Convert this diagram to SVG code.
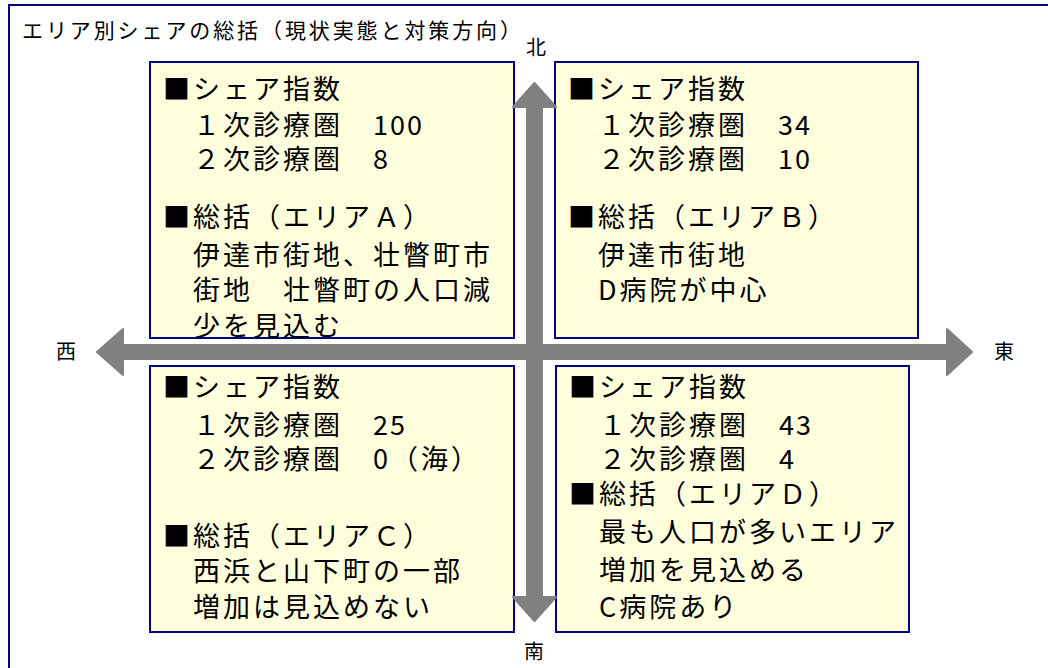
<svg xmlns="http://www.w3.org/2000/svg" width="1048" height="668" viewBox="0 0 1048 668">
<style>
.frame{fill:none;stroke:#000080;stroke-width:2}
.box{fill:#FFFFDD;stroke:#000080;stroke-width:2}
.t{font-family:"Noto Sans CJK JP","Noto Sans",sans-serif;font-size:27px;letter-spacing:3px;fill:#000}
.n{font-family:"Noto Sans CJK JP","Noto Sans",sans-serif;font-size:27px;letter-spacing:2px;fill:#000}
.title{font-family:"Noto Sans CJK JP","Noto Sans",sans-serif;font-size:21px;letter-spacing:2.9px;fill:#000}
.dir{font-family:"Noto Sans CJK JP","Noto Sans",sans-serif;font-size:20px;fill:#000;text-anchor:middle}
.arrow{fill:#808080;stroke:#808080;stroke-width:2;stroke-linejoin:round}
</style>
<rect width="1048" height="668" fill="#fff"/>
<path class="frame" d="M9,668 V5 H1048"/>
<text class="title" x="22" y="38">エリア別シェアの総括（現状実態と対策方向）</text>

<g id="areaA">
<rect class="box" x="150" y="62" width="364" height="276"/>
<text class="t" x="163" y="99">■シェア指数</text>
<text class="t" x="193" y="135">１次診療圏</text>
<text class="n" x="373" y="135">100</text>
<text class="t" x="193" y="169">２次診療圏</text>
<text class="n" x="373" y="169">8</text>
<text class="t" x="163" y="227">■総括（エリアＡ）</text>
<text class="t" x="193" y="265">伊達市街地、壮瞥町市</text>
<text class="t" x="193" y="300">街地　壮瞥町の人口減</text>
<text class="t" x="193" y="336">少を見込む</text>
</g>

<g id="areaB">
<rect class="box" x="555" y="62" width="363" height="276"/>
<text class="t" x="568" y="99">■シェア指数</text>
<text class="t" x="598" y="135">１次診療圏</text>
<text class="n" x="778" y="135">34</text>
<text class="t" x="598" y="169">２次診療圏</text>
<text class="n" x="778" y="169">10</text>
<text class="t" x="568" y="227">■総括（エリアＢ）</text>
<text class="t" x="598" y="265">伊達市街地</text>
<text class="t" x="598" y="300">D病院が中心</text>
</g>

<g id="areaC">
<rect class="box" x="150" y="366" width="364" height="266"/>
<text class="t" x="163" y="397">■シェア指数</text>
<text class="t" x="193" y="435">１次診療圏</text>
<text class="n" x="373" y="435">25</text>
<text class="t" x="193" y="469">２次診療圏</text>
<text class="t" x="373" y="469">0（海）</text>
<text class="t" x="163" y="546">■総括（エリアＣ）</text>
<text class="t" x="193" y="581">西浜と山下町の一部</text>
<text class="t" x="193" y="617">増加は見込めない</text>
</g>

<g id="areaD">
<rect class="box" x="556" y="366" width="353" height="266"/>
<text class="t" x="569" y="397">■シェア指数</text>
<text class="t" x="599" y="435">１次診療圏</text>
<text class="n" x="779" y="435">43</text>
<text class="t" x="599" y="469">２次診療圏</text>
<text class="n" x="779" y="469">4</text>
<text class="t" x="569" y="504">■総括（エリアＤ）</text>
<text class="t" x="599" y="542">最も人口が多いエリア</text>
<text class="t" x="599" y="580">増加を見込める</text>
<text class="t" x="599" y="617">C病院あり</text>
</g>

<g id="connectors">
<polygon class="arrow" points="534.5,83 556,107 542,107 542,597 556,597 534.5,621 513,597 527,597 527,107 513,107"/>
<polygon class="arrow" points="97,352 123,329 123,345 947,345 947,329 972,352 947,375 947,359 123,359 123,375"/>
</g>

<g id="labels">
<text class="dir" x="536" y="55">北</text>
<text class="dir" x="66" y="359">西</text>
<text class="dir" x="1004" y="359">東</text>
<text class="dir" x="534" y="659">南</text>
</g>
</svg>
